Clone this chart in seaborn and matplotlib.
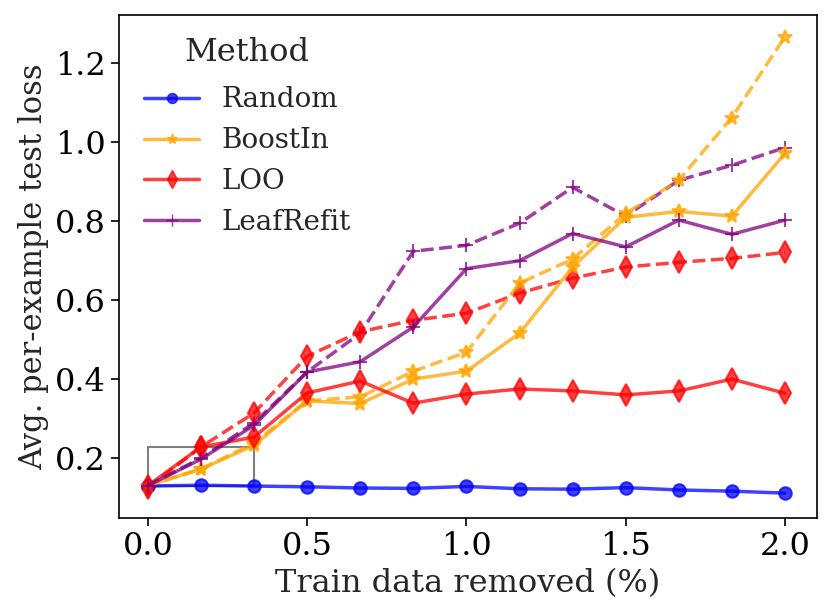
import numpy as np
import pandas as pd
import matplotlib
matplotlib.use("Agg")
import matplotlib.pyplot as plt
import seaborn as sns
from matplotlib.lines import Line2D
from matplotlib.patches import Rectangle

x_removed = [0.0, 0.1667, 0.3333, 0.5, 0.6667, 0.8333, 1.0, 1.1667, 1.3333, 1.5, 1.6667, 1.8333, 2.0]

random_solid = [0.129, 0.131, 0.129, 0.127, 0.124, 0.123, 0.128, 0.122, 0.121, 0.125, 0.119, 0.116, 0.111]
boostin_solid = [0.13, 0.172, 0.232, 0.345, 0.338, 0.40, 0.42, 0.516, 0.684, 0.81, 0.825, 0.813, 0.972]
boostin_dashed = [0.13, 0.172, 0.238, 0.345, 0.355, 0.42, 0.468, 0.643, 0.704, 0.82, 0.904, 1.063, 1.268]
loo_solid = [0.13, 0.228, 0.253, 0.365, 0.395, 0.339, 0.362, 0.375, 0.37, 0.36, 0.37, 0.40, 0.364]
loo_dashed = [0.125, 0.228, 0.314, 0.458, 0.52, 0.549, 0.567, 0.618, 0.656, 0.684, 0.696, 0.706, 0.721]
leaf_solid = [0.13, 0.197, 0.283, 0.418, 0.444, 0.532, 0.68, 0.70, 0.769, 0.735, 0.803, 0.767, 0.803]
leaf_dashed = [0.13, 0.2, 0.289, 0.418, 0.516, 0.724, 0.739, 0.795, 0.886, 0.813, 0.904, 0.942, 0.987]

methods = ["Random", "BoostIn", "LOO", "LeafRefit"]
series = {
    ("Random", "solid"): random_solid,
    ("BoostIn", "solid"): boostin_solid,
    ("BoostIn", "dashed"): boostin_dashed,
    ("LOO", "solid"): loo_solid,
    ("LOO", "dashed"): loo_dashed,
    ("LeafRefit", "solid"): leaf_solid,
    ("LeafRefit", "dashed"): leaf_dashed,
}
colors = {"Random": "blue", "BoostIn": "orange", "LOO": "red", "LeafRefit": "purple"}
markers = {"Random": "o", "BoostIn": "*", "LOO": "d", "LeafRefit": "+"}
msizes = {"Random": 9, "BoostIn": 10, "LOO": 11, "LeafRefit": 10}

sns.set_style("ticks")
plt.rcParams["font.family"] = ["DejaVu Serif"]

fig, ax = plt.subplots(figsize=(8.31, 6.13), dpi=100)

order = [("LeafRefit", "dashed"), ("LOO", "dashed"), ("BoostIn", "dashed"),
         ("Random", "solid"), ("BoostIn", "solid"), ("LOO", "solid"), ("LeafRefit", "solid")]
for key in order:
    m, v = key
    df = pd.DataFrame({"x": x_removed, "y": series[key]})
    sns.lineplot(data=df, x="x", y="y", ax=ax, color=colors[m], marker=markers[m],
                 markersize=msizes[m], markeredgecolor=colors[m], markeredgewidth=1.5,
                 linestyle="--" if v == "dashed" else "-", linewidth=2.5, alpha=0.75,
                 legend=False)

ax.add_patch(Rectangle((0.0, 0.13), 0.3333, 0.098, fill=False, edgecolor="grey", linewidth=1.5, zorder=1))

handles = [Line2D([0], [0], color=colors[m], marker=markers[m], markersize=msizes[m] * 0.8,
                  markeredgecolor=colors[m], linewidth=2.5, alpha=0.75) for m in methods]
leg = ax.legend(handles, methods, title="Method", frameon=False, fontsize=20,
                title_fontsize=23, loc="upper left", bbox_to_anchor=(0.0, 1.006))
leg._legend_box.sep = 13

ax.set_xlabel("Train data removed (%)", fontsize=23)
ax.set_ylabel("Avg. per-example test loss", fontsize=22)
ax.set_xlim(-0.091, 2.1)
ax.set_ylim(0.048, 1.322)
ax.set_xticks([0.0, 0.5, 1.0, 1.5, 2.0])
ax.set_yticks([0.2, 0.4, 0.6, 0.8, 1.0, 1.2])
ax.tick_params(labelsize=23, length=6, width=1.2, colors="black")
for s in ax.spines.values():
    s.set_color("black")
    s.set_linewidth(1.2)

fig.subplots_adjust(left=0.143, right=0.983, top=0.975, bottom=0.155)
fig.savefig("out.png", dpi=100)
